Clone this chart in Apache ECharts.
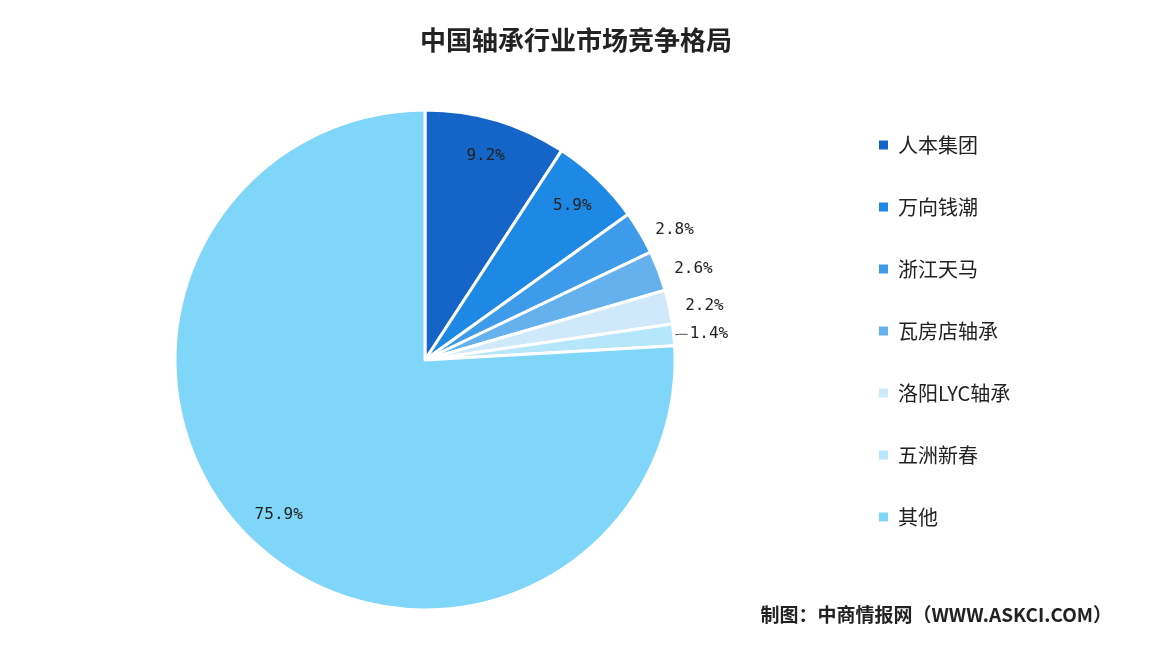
<!DOCTYPE html><html><head><meta charset="utf-8">
<script src="https://cdn.jsdelivr.net/npm/echarts@6/dist/echarts.min.js"></script>
<style>body{margin:0}#c{width:1152px;height:654px}</style></head><body><div id="c"></div>
<script>
const categories=['人本集团','万向钱潮','浙江天马','瓦房店轴承','洛阳LYC轴承','五洲新春','其他'];
const values=[9.2,5.9,2.8,2.6,2.2,1.4,75.9];
const colors=['#1565c8','#1e88e5','#3d9be9','#64b1ee','#cfe8fa','#b6e6fa','#7fd6f8'];
const inside=[true,true,false,false,false,false,true];
const chart=echarts.init(document.getElementById('c'));
const font='"Noto Sans CJK SC"';
chart.setOption({
 backgroundColor:'#fff',
 title:{text:'中国轴承行业市场竞争格局',left:'center',top:22,textStyle:{fontFamily:font,fontSize:26,fontWeight:'bold',color:'#222'}},
 graphic:[{type:'text',right:40,top:605,style:{text:'制图：中商情报网（WWW.ASKCI.COM）',fontFamily:font,fontSize:19,fontWeight:'bold',fill:'#222'}}],
 legend:{orient:'vertical',left:872,top:130,itemWidth:11,itemHeight:11,itemGap:42,icon:'rect',
   data:categories,textStyle:{fontFamily:font,fontSize:20,color:'#222',padding:[0,0,0,4]}},
 color:colors,
 series:[
 {type:'pie',center:[425,360],radius:[0,250],startAngle:90,clockwise:true,silent:true,
  itemStyle:{borderColor:'#fff',borderWidth:3},label:{show:false},labelLine:{show:false},
  data:categories.map((n,i)=>({name:n,value:values[i]}))},
 {type:'pie',center:[425,360],radius:[170,250],startAngle:90,clockwise:true,silent:true,legendHoverLink:false,
  itemStyle:{color:'transparent'},
  label:{fontFamily:'DejaVu Sans Mono',fontSize:16,color:'#222',formatter:p=>p.value.toFixed(1)+'%'},
  data:categories.map((n,i)=>({name:n,value:values[i],
    label:{position:inside[i]?'inside':'outside',distanceToLabelLine:2},
    labelLine:{show:!inside[i]&&i===5,length:6,length2:8,lineStyle:{color:'#555'}}}))}
 ]
});
</script></body></html>
